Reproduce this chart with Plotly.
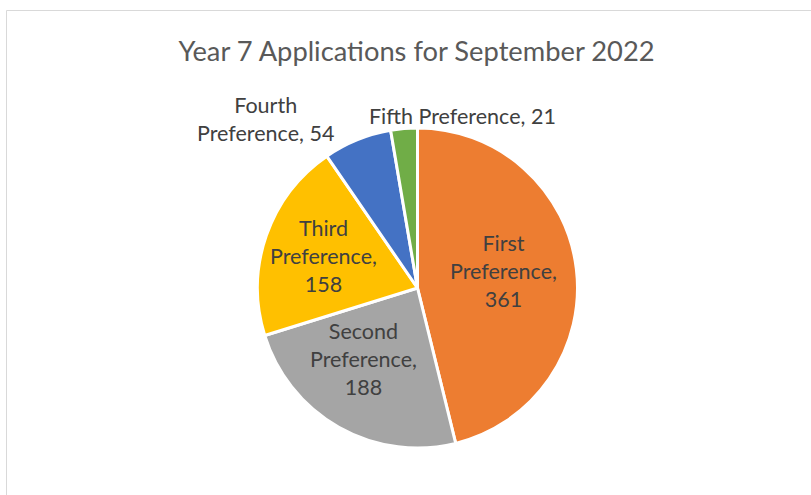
import math
import plotly.graph_objects as go

categories = ["First Preference", "Second Preference", "Third Preference", "Fourth Preference", "Fifth Preference"]
values = [361, 188, 158, 54, 21]
colors = ["#ED7D31", "#A5A5A5", "#FFC000", "#4472C4", "#70AD47"]
title_text = "Year 7 Applications for September 2022"

# label placement (Excel "best fit"): angle offset from slice middle (deg), radius factor
label_angle_shift = [-4.0, 8.0, -0.4, -20.0, 19.6]
label_radius = [0.55, 0.56, 0.62, 1.42, 1.11]

W, H = 811, 495
FONT = "Lato"
CX, CY, R = 417.5, 288.0, 160.0  # pie centre / radius in pixels

# label text (line breaks as in the reference)
texts = []
for i, (c, v) in enumerate(zip(categories, values)):
    first, second = c.split(" ")
    if i < 3:
        texts.append(f"{first}<br>{second},<br>{v}")
    elif i == 3:
        texts.append(f"{first}<br>{second}, {v}")
    else:
        texts.append(f"{c}, {v}")

fig = go.Figure(go.Pie(
    labels=categories,
    values=values,
    sort=False,
    direction="clockwise",
    rotation=0,
    marker=dict(colors=colors, line=dict(color="white", width=3)),
    textinfo="none",
    domain=dict(x=[(CX - R) / W, (CX + R) / W], y=[(H - CY - R) / H, (H - CY + R) / H]),
    showlegend=False,
    hoverinfo="label+value",
))

total = sum(values)
annotations = []
cum = 0.0
for i, v in enumerate(values):
    mid = (cum + v / 2) / total * 360.0
    cum += v
    ang = math.radians(mid + label_angle_shift[i])
    px = CX + label_radius[i] * R * math.sin(ang)
    py = CY - label_radius[i] * R * math.cos(ang)
    annotations.append(dict(
        x=px / W, y=1 - py / H, xref="paper", yref="paper",
        text=texts[i], showarrow=False, xanchor="center", yanchor="middle", align="center",
        font=dict(family=FONT, size=21.5, color="#404040"),
    ))

fig.update_layout(
    width=W, height=H,
    margin=dict(l=0, r=0, t=0, b=0),
    paper_bgcolor="white",
    title=dict(text=title_text, x=416.5 / W, xanchor="center", y=1 - 51 / H, yanchor="middle",
               font=dict(family=FONT, size=27.3, color="#595959")),
    annotations=annotations,
    shapes=[dict(type="rect", xref="paper", yref="paper", x0=6.5 / W, x1=1.02, y0=-0.02, y1=1 - 10.5 / H,
                 line=dict(color="#D9D9D9", width=1), fillcolor="rgba(0,0,0,0)")],
)

fig.write_html("out.html", config={"displayModeBar": False},
               post_script="document.body.style.margin='0';document.body.style.overflow='hidden';")
